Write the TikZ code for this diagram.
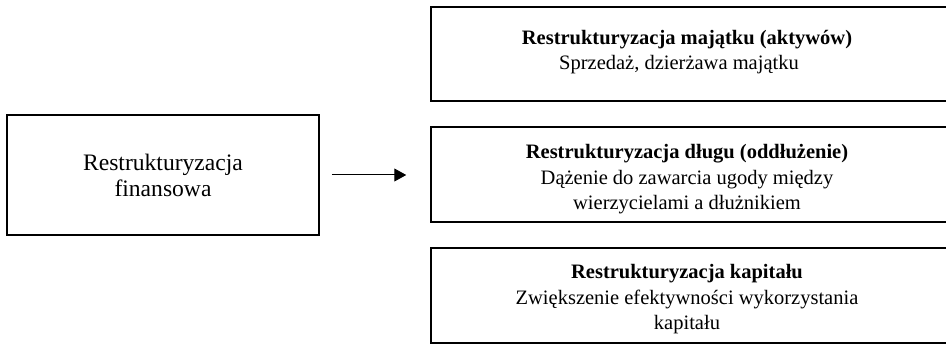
\documentclass[tikz,border=0pt]{standalone}
\usepackage{fontspec}
\setmainfont{Liberation Serif}
\usetikzlibrary{arrows.meta}
\begin{document}
\begin{tikzpicture}[x=1pt,y=-1pt,
  box/.style={draw, line width=1.5pt, rectangle, inner sep=0pt},
  lbl/.style={align=center, inner sep=0pt, anchor=base, font=\fontsize{20.5}{25.5}\selectfont},
  biglbl/.style={align=center, inner sep=0pt, anchor=base, font=\fontsize{23.6}{26}\selectfont},
  arr/.style={-{Triangle[length=12pt,width=13pt]}, line width=1pt}]
\useasboundingbox (0,0) rectangle (946,344);
\clip (0,0) rectangle (946,344);

% main box on the left
\node[box, minimum width=312pt, minimum height=120pt] (fin) at (163,175) {};
% text nodes are placed by the baseline of their last line
\node[biglbl] (finTxt) at (163,197) {Restrukturyzacja\\finansowa};

% three forms of restructuring on the right
\node[box, minimum width=519pt, minimum height=94pt] (assets) at (690.5,54) {};
\node[box, minimum width=519pt, minimum height=95pt] (debt) at (690.5,174.5) {};
\node[box, minimum width=519pt, minimum height=95pt] (capital) at (690.5,295.5) {};

\node[lbl] (assetsTxt) at (687,70)
  {\textbf{Restrukturyzacja majątku (aktywów)}\\Sprzedaż, dzierżawa majątku\hspace*{16pt}};
\node[lbl] (debtTxt) at (687,210)
  {\textbf{Restrukturyzacja długu (oddłużenie)}\\Dążenie do zawarcia ugody między\\wierzycielami a dłużnikiem};
\node[lbl] (capitalTxt) at (687,330)
  {\textbf{Restrukturyzacja kapitału}\\Zwiększenie efektywności wykorzystania\\kapitału};

% connector
\draw[arr] ([xshift=12pt]fin.east) -- ([xshift=-24pt]debt.west |- fin.east);
\end{tikzpicture}
\end{document}
